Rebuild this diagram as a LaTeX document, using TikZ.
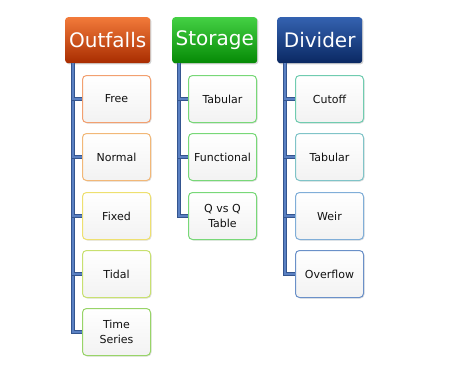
\documentclass[tikz,border=0pt]{standalone}
\usepackage{fontspec}
\setmainfont{DejaVu Sans}
\usetikzlibrary{shadows}
\definecolor{conn}{HTML}{5A80C2}
\definecolor{connd}{HTML}{34558F}
\definecolor{txt}{HTML}{111111}
\definecolor{otop}{HTML}{F27A3A}
\definecolor{omid}{HTML}{DE4A10}
\definecolor{obot}{HTML}{A82C00}
\definecolor{stop}{HTML}{44D044}
\definecolor{smid}{HTML}{14AE14}
\definecolor{sbot}{HTML}{058A05}
\definecolor{dtop}{HTML}{3462B0}
\definecolor{dmid}{HTML}{143E88}
\definecolor{dbot}{HTML}{0A2862}
\definecolor{cFree}{HTML}{F2A070}
\definecolor{cNormal}{HTML}{F2B878}
\definecolor{cFixed}{HTML}{EEE070}
\definecolor{cTidal}{HTML}{C8E070}
\definecolor{cTime}{HTML}{98D468}
\definecolor{cStor}{HTML}{78D878}
\definecolor{cCut}{HTML}{70CCB0}
\definecolor{cTab}{HTML}{80C4C8}
\definecolor{cWeir}{HTML}{80AED8}
\definecolor{cOver}{HTML}{6A90C8}
\tikzset{
  hdr/.style={draw=none, rounded corners=3pt, minimum width=85pt, minimum height=46pt,
    text=white, font=\fontsize{20}{24}\selectfont, anchor=north west, inner sep=0pt,
    drop shadow={opacity=0.35, shadow xshift=1.2pt, shadow yshift=-1.2pt}},
  item/.style={draw=#1, line width=1pt, rounded corners=4pt, minimum width=68pt, minimum height=47pt,
    top color=white, bottom color=black!5, text=txt, align=center, inner sep=1pt,
    font=\fontsize{11}{15}\selectfont, anchor=north west,
    drop shadow={opacity=0.25, shadow xshift=1pt, shadow yshift=-1pt}},
  link/.style={draw=connd, line width=0.7pt, double=conn, double distance=1.8pt}
}
\begin{document}
\begin{tikzpicture}[x=1pt,y=-1pt]
\useasboundingbox (0,0) rectangle (465,384);
\fill[white] (0,0) rectangle (465,384);
% headers
\node[hdr, top color=otop, middle color=omid, bottom color=obot] (ho) at (65,17) {Outfalls};
\node[hdr, top color=stop, middle color=smid, bottom color=sbot] (hs) at (172,17) {Storage};
\node[hdr, top color=dtop, middle color=dmid, bottom color=dbot] (hd) at (277,17) {Divider};
\coordinate (lo) at (73,63);
\coordinate (ls) at (179,63);
\coordinate (ld) at (285,63);
% outfalls children
\node[item=cFree]   (o1) at (82,75)  {Free};
\node[item=cNormal] (o2) at (82,133) {Normal};
\node[item=cFixed]  (o3) at (82,192) {Fixed};
\node[item=cTidal]  (o4) at (82,250) {Tidal};
\node[item=cTime]   (o5) at (82,308) {Time\\Series};
% storage children
\node[item=cStor] (s1) at (188,75)  {Tabular};
\node[item=cStor] (s2) at (188,133) {Functional};
\node[item=cStor] (s3) at (188,192) {Q vs Q\\Table};
% divider children
\node[item=cCut]  (d1) at (295,75)  {Cutoff};
\node[item=cTab]  (d2) at (295,133) {Tabular};
\node[item=cWeir] (d3) at (295,192) {Weir};
\node[item=cOver] (d4) at (295,250) {Overflow};
% connectors
\foreach \c in {o5,o4,o3,o2,o1} {\draw[link] (lo) |- (\c.west);}
\foreach \c in {s3,s2,s1} {\draw[link] (ls) |- (\c.west);}
\foreach \c in {d4,d3,d2,d1} {\draw[link] (ld) |- (\c.west);}
\end{tikzpicture}
\end{document}
